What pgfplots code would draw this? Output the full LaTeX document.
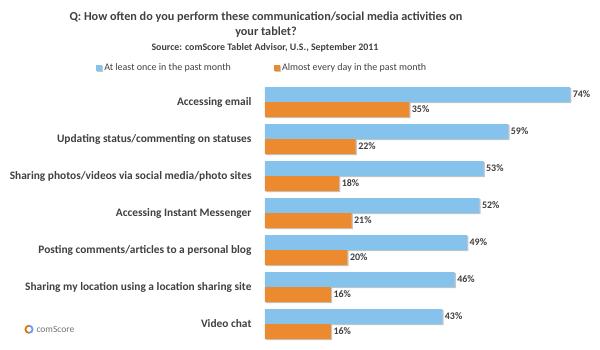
\documentclass[border=0pt]{standalone}
\usepackage{pgfplots}
\pgfplotsset{compat=1.18}
\usepackage{fontspec}
\setmainfont{Carlito}
\usetikzlibrary{shadows}
\definecolor{cblue}{RGB}{133,194,236}
\definecolor{corange}{RGB}{236,138,48}
\definecolor{ctext}{RGB}{64,64,64}
\begin{document}
\begin{tikzpicture}[x=1pt,y=1pt]
\useasboundingbox (0,0) rectangle (600,349);
\begin{axis}[
  at={(265pt,6.5pt)}, anchor=south west,
  scale only axis, width=330pt, height=259pt,
  xbar, xmin=0, xmax=80, ymin=-0.5, ymax=6.5,
  hide x axis,
  axis line style={draw=none},
  major tick length=0pt,
  /pgf/number format/assume math mode=true,
  ytick={0,...,6},
  yticklabels={Video chat, Sharing my location using a location sharing site, Posting comments/articles to a personal blog, Accessing Instant Messenger, Sharing photos/videos via social media/photo sites, Updating status/commenting on statuses, Accessing email},
  yticklabel style={font=\fontsize{11.4}{13}\selectfont\bfseries, text=ctext, xshift=-10pt},
  bar width=15pt,
  nodes near coords={\pgfmathprintnumber{\pgfplotspointmeta}\%},
  nodes near coords style={font=\fontsize{10}{11}\selectfont\bfseries, text=ctext, xshift=-1pt},
  point meta=x,
  legend style={at={(-0.521,1.06)}, anchor=west, draw=none, fill=none, legend columns=2,
    font=\fontsize{10}{11}\selectfont, text=ctext,
    /tikz/every even column/.style={column sep=41pt}},
  legend image code/.code={\fill[#1] (0pt,-3pt) rectangle (6pt,3pt);},
]
\addplot[fill=cblue, draw=none, bar shift=7.5pt, drop shadow={shadow xshift=1.2pt, shadow yshift=-1.2pt, opacity=0.45}] coordinates {
(43,0) (46,1) (49,2) (52,3) (53,4) (59,5) (74,6)};
\addplot[fill=corange, draw=none, bar shift=-7.5pt, drop shadow={shadow xshift=1.2pt, shadow yshift=-1.2pt, opacity=0.45}] coordinates {
(16,0) (16,1) (20,2) (21,3) (18,4) (22,5) (35,6)};
\legend{At least once in the past month, Almost every day in the past month}
\end{axis}
\node[font=\fontsize{12.2}{15.5}\selectfont\bfseries, text=ctext, align=center] at (266,324.5) {Q: How often do you perform these communication/social media activities on\\your tablet?};
\node[font=\fontsize{9.9}{11}\selectfont\bfseries, text=ctext] at (265,301.5) {Source: comScore Tablet Advisor, U.S., September 2011};
\draw[line width=1.8pt, orange!90!black] (29,23.3) arc (90:270:3.6);
\draw[line width=1.8pt, cblue!80!blue] (29,16.1) arc (-90:90:3.6);
\node[font=\fontsize{9.5}{10}\selectfont\scshape, text=black!55, anchor=west] at (33,19.5) {comScore};
\end{tikzpicture}
\end{document}
